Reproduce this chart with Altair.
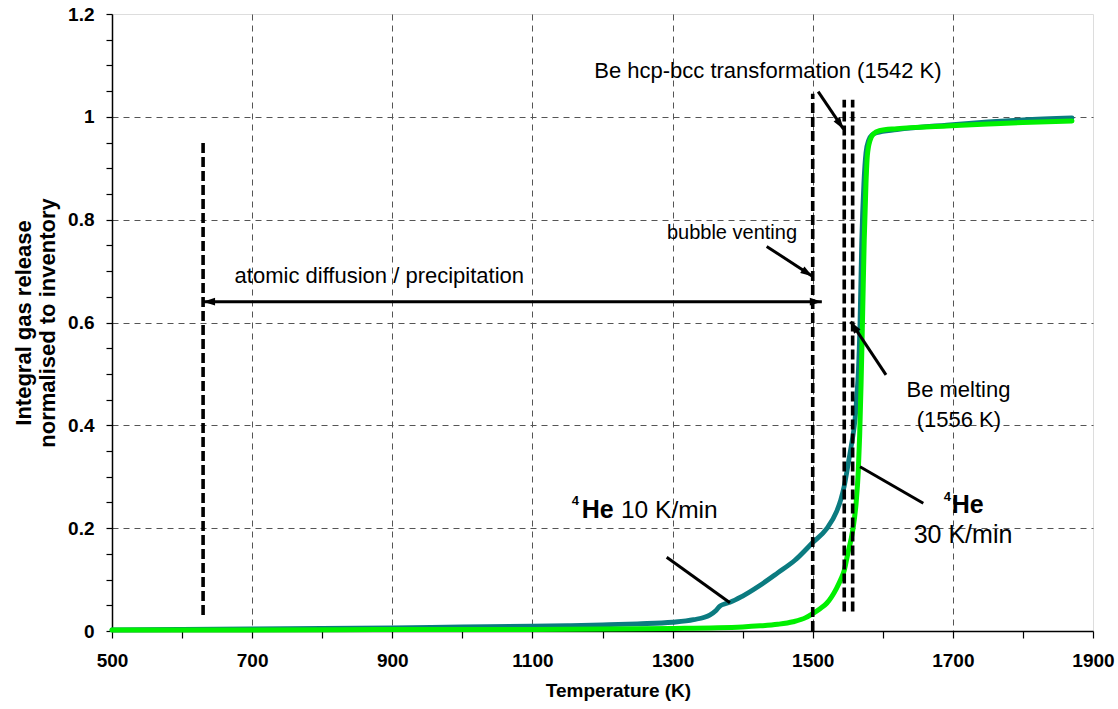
import math
import altair as alt
import pandas as pd

FONT = "Liberation Sans"

# ---- data: integral 4He release, 10 K/min (teal) ----
t10 = [500, 600, 700, 800, 900, 1000, 1100, 1150, 1200, 1250, 1300, 1330, 1353, 1362, 1368,
       1375, 1382, 1400, 1425, 1450, 1475, 1500, 1520, 1534, 1540, 1545, 1550, 1555, 1558,
       1561, 1563, 1565, 1567.5, 1570, 1573, 1576, 1580, 1585, 1591, 1620, 1691, 1750, 1800, 1870]
v10 = [0.002, 0.003, 0.004, 0.005, 0.006, 0.008, 0.0095, 0.0105, 0.012, 0.014, 0.017, 0.022, 0.031, 0.040, 0.049,
       0.053, 0.056, 0.068, 0.089, 0.113, 0.138, 0.172, 0.199, 0.232, 0.255, 0.282, 0.32, 0.36, 0.385,
       0.42, 0.46, 0.50, 0.60, 0.76, 0.87, 0.93, 0.955, 0.965, 0.969, 0.975, 0.984, 0.990, 0.994, 0.998]

# ---- data: integral 4He release, 30 K/min (green) ----
t30 = [500, 700, 900, 1100, 1300, 1400, 1425, 1450, 1472, 1490, 1500, 1510, 1520, 1534, 1540, 1545,
       1550, 1557, 1562, 1565, 1567, 1569, 1571.3, 1573.5, 1576, 1578, 1582, 1587, 1595, 1620, 1691,
       1750, 1800, 1870]
v30 = [0.002, 0.002, 0.003, 0.003, 0.005, 0.008, 0.010, 0.013, 0.018, 0.026, 0.034, 0.043, 0.054, 0.083, 0.10, 0.118,
       0.15, 0.195, 0.25, 0.31, 0.38, 0.48, 0.62, 0.76, 0.87, 0.925, 0.955, 0.967, 0.973, 0.977, 0.982,
       0.986, 0.989, 0.992]

# ---- thick dashed marker lines ----
dash_t = [630, 1500, 1545, 1557]
dash_lo = [0.031, 0.0, 0.038, 0.038]
dash_hi = [0.955, 1.045, 1.033, 1.033]

# ---- annotation lines (T1, v1, T2, v2, head at end, head at start) ----
ann_t1 = [1507.8, 1434.3, 630, 1604.6, 1657.8, 1291.6]
ann_v1 = [1.049, 0.748, 0.6405, 0.498, 0.2484, 0.1433]
ann_t2 = [1544, 1499.5, 1513, 1554.2, 1567.5, 1381.9]
ann_v2 = [0.976, 0.690, 0.6405, 0.6016, 0.3195, 0.055]
ann_head_end = [True, True, True, True, False, False]
ann_head_start = [False, False, True, False, False, False]

# ---- annotation texts ----
txt_label = ["Be hcp-bcc transformation (1542 K)", "bubble venting", "atomic diffusion / precipitation",
             "Be melting", "(1556 K)", "He", "4", "30 K/min", "He", "4", "10 K/min"]
txt_t = [1436, 1477.6, 881.5, 1708, 1708.6, 1698.3, 1697.3, 1714.5, 1170.3, 1166.5, 1226.4]
txt_v = [1.076, 0.762, 0.677, 0.4557, 0.397, 0.229, 0.2528, 0.1706, 0.219, 0.245, 0.219]
txt_align = ["center", "right", "center", "center", "center", "left", "right", "center", "left", "right", "left"]
txt_size = [22, 20, 22, 22, 22, 25, 13, 25, 25, 13, 24.5]
txt_weight = ["normal", "normal", "normal", "normal", "normal", "bold", "bold", "normal", "bold", "bold", "normal"]

# axis tick positions
x_ticks = list(range(500, 1901, 100))
y_ticks = [round(i * 0.05, 2) for i in range(25)]

W, H = 981, 617
XD = [500, 1900]
YD = [0, 1.2]
sx = W / (XD[1] - XD[0])
sy = H / (YD[1] - YD[0])

xs = alt.Scale(domain=XD, nice=False, zero=False)
ys = alt.Scale(domain=YD, nice=False, zero=False)

x_axis = alt.Axis(
    values=x_ticks, format="d",
    labelExpr="datum.value % 200 == 0 ? '' : datum.label",
    labelFont=FONT, labelFontSize=19, labelFontWeight="bold", labelColor="black",
    labelFlush=False, labelOverlap=False,
    ticks=True, labelPadding=13, tickSize=7, tickColor="black", tickWidth=1.2, tickOpacity=1,
    domainColor="black", domainWidth=1.5,
    grid=True, gridColor="#555555", gridDash=[6, 5], gridWidth=1,
    gridOpacity={"condition": {"test": "datum.value % 200 == 100 && datum.value > 500 && datum.value < 1900",
                               "value": 1}, "value": 0},
    title="Temperature (K)", titleFont=FONT, titleFontSize=19, titleFontWeight="bold",
    titleColor="black", titlePadding=11, titleX=506,
)
y_axis = alt.Axis(
    values=y_ticks,
    labelExpr="abs(datum.value*5 - round(datum.value*5)) < 0.001 ? format(datum.value, '~g') : ''",
    labelFont=FONT, labelFontSize=19, labelFontWeight="bold", labelColor="black",
    labelFlush=False, labelOverlap=False,
    ticks=True, labelPadding=12, tickSize=6, tickColor="black", tickWidth=1.2, tickOpacity=1,
    domainColor="black", domainWidth=1.5,
    grid=True, gridColor="#555555", gridDash=[6, 5], gridWidth=1,
    gridOpacity={"condition": {"test": "abs(datum.value*5 - round(datum.value*5)) < 0.001 && datum.value > 0.01 && datum.value < 1.19",
                               "value": 1}, "value": 0},
    title=["Integral gas release", "normalised to inventory"], titleFont=FONT, titleFontSize=22,
    titleFontWeight="bold", titleColor="black", titleLineHeight=24, titlePadding=8,
)


def X(field):
    return alt.X(field, type="quantitative", scale=xs, axis=x_axis)


def Y(field):
    return alt.Y(field, type="quantitative", scale=ys, axis=y_axis)


df10 = pd.DataFrame({"T": t10, "v": v10})
df30 = pd.DataFrame({"T": t30, "v": v30})

teal = alt.Chart(df10).mark_line(
    strokeWidth=4.8, interpolate="monotone", strokeCap="round", color="#0b7b80").encode(x=X("T"), y=Y("v"))
green = alt.Chart(df30).mark_line(
    strokeWidth=5, interpolate="monotone", strokeCap="round", color="#00f000").encode(x=X("T"), y=Y("v"))

dash_df = pd.DataFrame({"T": dash_t, "v": dash_lo, "hi": dash_hi})
dashed = alt.Chart(dash_df).mark_rule(strokeWidth=3.6, strokeDash=[10, 4], color="black").encode(
    x=X("T"), y=Y("v"), y2="hi:Q",
)

ann_df = pd.DataFrame({"T": ann_t1, "v": ann_v1, "T2": ann_t2, "v2": ann_v2})
ann_lines = alt.Chart(ann_df).mark_rule(strokeWidth=3, color="black").encode(
    x=X("T"), y=Y("v"), x2="T2:Q", y2="v2:Q",
)


def heading(t_from, v_from, t_to, v_to):
    dx = (t_to - t_from) * sx
    dy = -(v_to - v_from) * sy
    ang = math.degrees(math.atan2(dx, -dy))
    return ang % 360


head_rows = []
for i in range(len(ann_t1)):
    if ann_head_end[i]:
        head_rows.append({"T": ann_t2[i], "v": ann_v2[i],
                          "angle": heading(ann_t1[i], ann_v1[i], ann_t2[i], ann_v2[i])})
    if ann_head_start[i]:
        head_rows.append({"T": ann_t1[i], "v": ann_v1[i],
                          "angle": heading(ann_t2[i], ann_v2[i], ann_t1[i], ann_v1[i])})
heads_df = pd.DataFrame(head_rows)
heads = alt.Chart(heads_df).mark_point(
    shape="M0,0L0.65,2L-0.65,2Z", filled=True, size=144, color="black", opacity=1, strokeWidth=0).encode(
    x=X("T"), y=Y("v"),
    angle=alt.Angle("angle:Q", scale=None),
)

text_layers = []
for i in range(len(txt_label)):
    d = pd.DataFrame({"T": [txt_t[i]], "v": [txt_v[i]], "label": [txt_label[i]]})
    text_layers.append(
        alt.Chart(d).mark_text(font=FONT, fontSize=txt_size[i], fontWeight=txt_weight[i],
                               align=txt_align[i], baseline="alphabetic", color="black").encode(
            x=X("T"), y=Y("v"), text="label:N",
        )
    )

chart = alt.layer(teal, green, dashed, ann_lines, heads, *text_layers).properties(
    width=W, height=H,
    autosize=alt.AutoSizeParams(type="none"),
    padding={"left": 112, "top": 14, "right": 25, "bottom": 78},
).configure_view(stroke="#808080", strokeWidth=2).configure(background="white")

chart.save("out.html", embed_options={"renderer": "svg", "actions": False})
